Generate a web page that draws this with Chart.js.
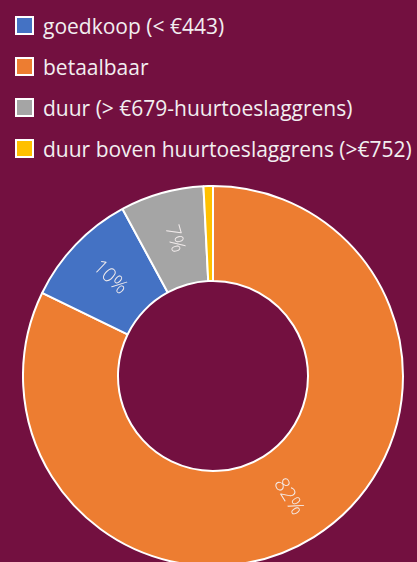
<!DOCTYPE html>
<html>
<head>
<meta charset="utf-8">
<script src="https://cdn.jsdelivr.net/npm/chart.js@4"></script>
<style>
  html, body { margin: 0; padding: 0; }
  body { width: 417px; height: 562px; overflow: hidden; background: #731040; position: relative; font-family: "Open Sans", Lato, sans-serif; }
  #legend { position: absolute; left: 15px; top: 5px; margin: 0; padding: 0; list-style: none; }
  #legend li { display: flex; align-items: center; height: 41px; color: #f2eef0; font-size: 21px; white-space: nowrap; }
  #legend .box { width: 15px; height: 15px; border: 2px solid #fff; margin-right: 9px; flex: none; }
  #chartWrap { position: absolute; left: 22px; top: 185px; width: 382px; height: 382px; }
</style>
</head>
<body>
<ul id="legend"></ul>
<div id="chartWrap"><canvas id="myChart"></canvas></div>
<script>
// data, in the order the slices run clockwise from the top
const categories = ['betaalbaar', 'goedkoop (< €443)', 'duur (> €679-huurtoeslaggrens)', 'duur boven huurtoeslaggrens (>€752)'];
const shares = [82.2, 9.9, 7.1, 0.8];
const colors = ['#ED7D31', '#4472C4', '#A5A5A5', '#FFC000'];
// legend shows the categories in this order
const legendOrder = ['goedkoop (< €443)', 'betaalbaar', 'duur (> €679-huurtoeslaggrens)', 'duur boven huurtoeslaggrens (>€752)'];

// rotated percentage labels on the ring
const sliceLabels = {
    id: 'sliceLabels',
    afterDatasetsDraw(chart) {
        const ctx = chart.ctx;
        const meta = chart.getDatasetMeta(0);
        meta.data.forEach((arc, i) => {
            const value = shares[i];
            if (value < 2) return;
            const pos = arc.tooltipPosition();
            let angle = Math.atan2(pos.y - arc.y, pos.x - arc.x);
            if (angle > Math.PI / 2) angle -= Math.PI;
            if (angle < -Math.PI / 2) angle += Math.PI;
            ctx.save();
            ctx.translate(pos.x, pos.y);
            ctx.rotate(angle);
            ctx.font = '300 20px "Open Sans", Lato, sans-serif';
            ctx.fillStyle = '#f4eeee';
            ctx.textAlign = 'center';
            ctx.textBaseline = 'middle';
            ctx.fillText(Math.round(value) + '%', 0, 0);
            ctx.restore();
        });
    }
};

// legend built from the chart's own items
const htmlLegend = {
    id: 'htmlLegend',
    afterUpdate(chart) {
        const list = document.getElementById('legend');
        list.innerHTML = '';
        const items = chart.options.plugins.legend.labels.generateLabels(chart);
        items.sort((a, b) => legendOrder.indexOf(a.text) - legendOrder.indexOf(b.text));
        items.forEach(item => {
            const li = document.createElement('li');
            const box = document.createElement('span');
            box.className = 'box';
            box.style.background = item.fillStyle;
            li.appendChild(box);
            li.appendChild(document.createTextNode(item.text));
            list.appendChild(li);
        });
    }
};

const ctx = document.getElementById('myChart').getContext('2d');
const myChart = new Chart(ctx, {
    type: 'doughnut',
    data: {
        labels: categories,
        datasets: [{
            data: shares,
            backgroundColor: colors,
            borderColor: '#ffffff',
            borderWidth: 2,
            hoverOffset: 0
        }]
    },
    options: {
        responsive: true,
        maintainAspectRatio: false,
        animation: false,
        cutout: '50%',
        layout: { padding: 0 },
        plugins: {
            legend: { display: false },
            tooltip: { enabled: false }
        }
    },
    plugins: [sliceLabels, htmlLegend]
});
</script>
</body>
</html>
